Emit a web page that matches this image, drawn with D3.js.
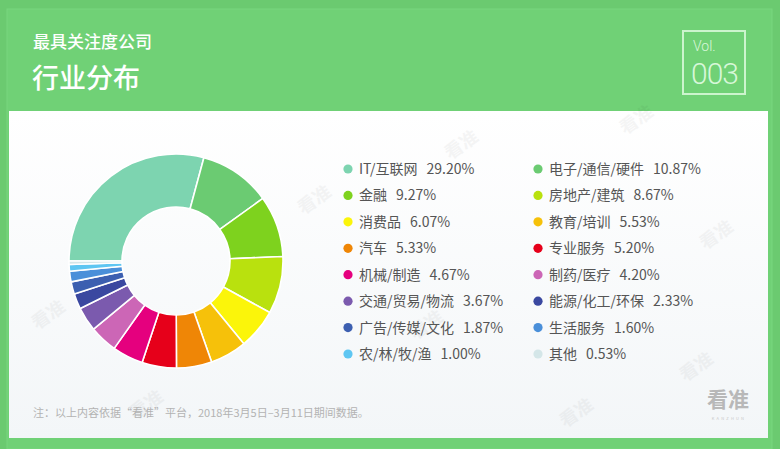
<!DOCTYPE html>
<html>
<head>
<meta charset="utf-8">
<script src="https://cdn.jsdelivr.net/npm/d3@7"></script>
<style>
  html, body { margin: 0; padding: 0; background: #6dcc72; }
  svg { display: block; font-family: "Noto Sans CJK SC", "Noto Sans", sans-serif; }
</style>
</head>
<body>
<svg id="chart" width="780" height="449"></svg>
<script>
const categories = ["IT/互联网", "电子/通信/硬件", "金融", "房地产/建筑", "消费品", "教育/培训",
  "汽车", "专业服务", "机械/制造", "制药/医疗", "交通/贸易/物流", "能源/化工/环保",
  "广告/传媒/文化", "生活服务", "农/林/牧/渔", "其他"];
const values = [29.20, 10.87, 9.27, 8.67, 6.07, 5.53, 5.33, 5.20, 4.67, 4.20, 3.67, 2.33, 1.87, 1.60, 1.00, 0.53];
const colors = ["#7dd4b0", "#6bcb72", "#7ed21e", "#b9e10e", "#fbf50a", "#f6c10a",
  "#ef8606", "#e6001a", "#e5007e", "#cc66b6", "#7b5aae", "#3a48a0",
  "#3c5fb0", "#4a8fd9", "#5ec6f2", "#d4e6e8"];
const title1 = "最具关注度公司";
const title2 = "行业分布";
const note = "注：以上内容依据“看准”平台，2018年3月5日–3月11日期间数据。";

const svg = d3.select("#chart");
const defs = svg.append("defs");
const grad = defs.append("linearGradient").attr("id", "cardGrad")
  .attr("x1", 0).attr("y1", 0).attr("x2", 0).attr("y2", 1);
grad.append("stop").attr("offset", "0%").attr("stop-color", "#ffffff");
grad.append("stop").attr("offset", "100%").attr("stop-color", "#f3f6f8");

// background
svg.append("rect").attr("width", 780).attr("height", 449).attr("fill", "#6bca70");
svg.append("rect").attr("x", 7).attr("y", 9).attr("width", 765).attr("height", 440)
  .attr("fill", "#70d176").attr("stroke", "#79d67e").attr("stroke-width", 1);
// white card
svg.append("rect").attr("x", 9).attr("y", 111).attr("width", 759).attr("height", 327)
  .attr("fill", "url(#cardGrad)");

// header
svg.append("text").attr("x", 33).attr("y", 48).attr("fill", "#ffffff")
  .attr("font-size", 17).attr("font-weight", 500).text(title1);
svg.append("text").attr("x", 32).attr("y", 88).attr("fill", "#ffffff")
  .attr("font-size", 27).attr("font-weight", 500).text(title2);
svg.append("rect").attr("x", 683).attr("y", 31).attr("width", 62).attr("height", 63)
  .attr("fill", "none").attr("stroke", "rgba(235,255,235,0.75)").attr("stroke-width", 2);
svg.append("text").attr("x", 693).attr("y", 51).attr("fill", "rgba(235,255,235,0.85)")
  .attr("font-family", "Roboto, sans-serif").attr("font-weight", 300)
  .attr("font-size", 14).text("Vol.");
svg.append("text").attr("x", 691).attr("y", 84).attr("fill", "rgba(235,255,235,0.85)")
  .attr("font-family", "Roboto, sans-serif").attr("font-weight", 300)
  .attr("font-size", 30).attr("textLength", 48).text("003");

// watermarks
const wm = [[465, 150], [318, 205], [720, 240], [52, 320], [700, 372], [430, 330], [150, 410], [580, 418], [640, 125]];
svg.append("g").selectAll("text").data(wm).join("text")
  .attr("transform", d => `translate(${d[0]},${d[1]}) rotate(-35)`)
  .attr("text-anchor", "middle").attr("font-size", 18).attr("font-weight", 700)
  .attr("fill", "#000").attr("opacity", 0.035).text("看准");

// donut
const cx = 176, cy = 261, rOuter = 107, rInner = 54;
const pie = d3.pie().sort(null).value(d => d)
  .startAngle(-Math.PI / 2).endAngle(Math.PI * 1.5);
const arc = d3.arc().innerRadius(rInner).outerRadius(rOuter);
svg.append("g").attr("transform", `translate(${cx},${cy})`)
  .selectAll("path").data(pie(values)).join("path")
  .attr("d", arc)
  .attr("fill", (d, i) => colors[i])
  .attr("stroke", "#ffffff").attr("stroke-width", 1.6).attr("stroke-linejoin", "round");

// legend
const rowY = d3.scaleLinear().domain([0, 7]).range([169, 354]);
const colX = [348, 538];
const lg = svg.append("g").selectAll("g").data(categories).join("g")
  .attr("transform", (d, i) => `translate(${colX[i % 2]},${rowY(Math.floor(i / 2))})`);
lg.append("circle").attr("r", 4.6).attr("fill", (d, i) => colors[i]);
const lt = lg.append("text").attr("x", 11).attr("y", 5).attr("font-size", 14).attr("fill", "#555");
lt.append("tspan").text(d => d);
lt.append("tspan").attr("dx", 9).text((d, i) => values[i].toFixed(2) + "%");

// footer
svg.append("text").attr("x", 33).attr("y", 417).attr("font-size", 11).attr("fill", "#b3b3b3").text(note);
svg.append("text").attr("x", 707).attr("y", 407).attr("font-size", 21).attr("font-weight", 700)
  .attr("fill", "#b8b8b8").text("看准");
svg.append("text").attr("x", 729).attr("y", 420).attr("font-size", 4).attr("letter-spacing", 2.2)
  .attr("text-anchor", "middle").attr("fill", "#c8c8c8").text("KANZHUN");
</script>
</body>
</html>
